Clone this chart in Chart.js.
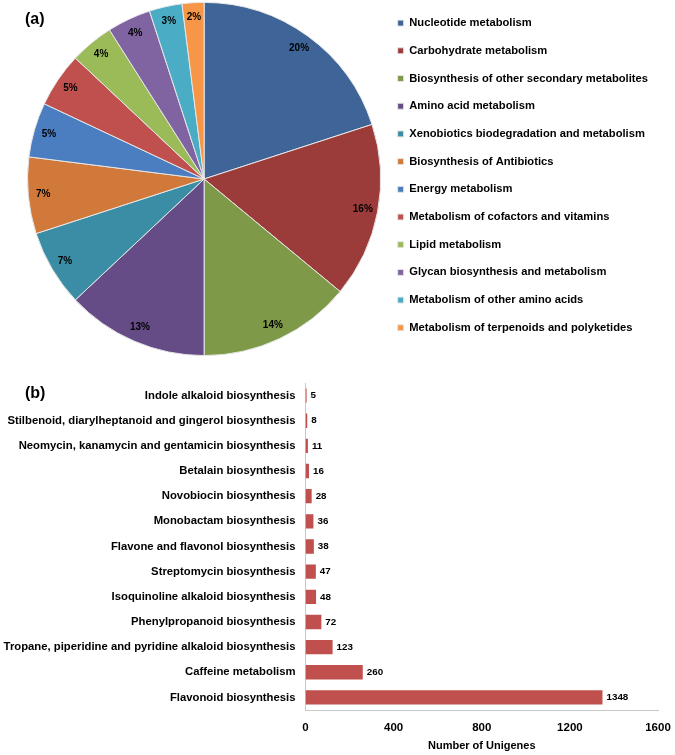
<!DOCTYPE html>
<html>
<head>
<meta charset="utf-8">
<script src="https://cdn.jsdelivr.net/npm/chart.js@4.4.1/dist/chart.umd.min.js"></script>
<style>
  body { margin: 0; background: #fff; }
  #wrap { position: relative; width: 675px; height: 755px; font-family: "Liberation Sans", Arial, sans-serif; }
  #pieChart { position: absolute; left: 0; top: 0; }
  #barChart { position: absolute; left: 0; top: 360px; }
  .tag { position: absolute; font-weight: bold; font-size: 16px; color: #000; }
</style>
</head>
<body>
<div id="wrap">
  <canvas id="pieChart" width="675" height="360"></canvas>
  <canvas id="barChart" width="675" height="395"></canvas>
  <div class="tag" style="left:25px; top:10px;">(a)</div>
  <div class="tag" style="left:25px; top:384px;">(b)</div>
</div>
<script>
// pie data (a)
const pieLabels = [
  "Nucleotide metabolism",
  "Carbohydrate metabolism",
  "Biosynthesis of other secondary metabolites",
  "Amino acid metabolism",
  "Xenobiotics biodegradation and metabolism",
  "Biosynthesis of Antibiotics",
  "Energy metabolism",
  "Metabolism of cofactors and vitamins",
  "Lipid metabolism",
  "Glycan biosynthesis and metabolism",
  "Metabolism of other amino acids",
  "Metabolism of terpenoids and polyketides"
];
const pieValues = [20, 16, 14, 13, 7, 7, 5, 5, 4, 4, 3, 2];
const pieColors = ["#3e6498", "#9c3c3a", "#7e9a48", "#654c86", "#3a8da4", "#d1793a",
                   "#4a7ec1", "#c0504d", "#9bbb59", "#8064a2", "#4bacc6", "#f79646"];

// bar data (b)
const barLabels = [
  "Indole alkaloid biosynthesis",
  "Stilbenoid, diarylheptanoid and gingerol biosynthesis",
  "Neomycin, kanamycin and gentamicin biosynthesis",
  "Betalain biosynthesis",
  "Novobiocin biosynthesis",
  "Monobactam biosynthesis",
  "Flavone and flavonol biosynthesis",
  "Streptomycin biosynthesis",
  "Isoquinoline alkaloid biosynthesis",
  "Phenylpropanoid biosynthesis",
  "Tropane, piperidine and pyridine alkaloid biosynthesis",
  "Caffeine metabolism",
  "Flavonoid biosynthesis"
];
const barValues = [5, 8, 11, 16, 28, 36, 38, 47, 48, 72, 123, 260, 1348];
const xTicks = [0, 400, 800, 1200, 1600];

const FONT = "'Liberation Sans', Arial, sans-serif";

// percent labels inside the pie
const piePercent = {
  id: "piePercent",
  afterDatasetsDraw(chart) {
    const ctx = chart.ctx;
    const total = pieValues.reduce((a, b) => a + b, 0);
    ctx.save();
    ctx.font = "bold 10px " + FONT;
    ctx.fillStyle = "#000";
    ctx.textAlign = "center";
    ctx.textBaseline = "middle";
    chart.getDatasetMeta(0).data.forEach((arc, i) => {
      const p = arc.getProps(["x", "y", "startAngle", "endAngle", "outerRadius"], true);
      const mid = (p.startAngle + p.endAngle) / 2;
      const r = p.outerRadius * 0.915;
      ctx.fillText(Math.round(pieValues[i] / total * 100) + "%", p.x + Math.cos(mid) * r, p.y + Math.sin(mid) * r);
    });
    ctx.restore();
  }
};

// value labels at end of bars
const barValueLabels = {
  id: "barValueLabels",
  afterDatasetsDraw(chart) {
    const ctx = chart.ctx;
    ctx.save();
    ctx.font = "bold 9.8px " + FONT;
    ctx.fillStyle = "#000";
    ctx.textAlign = "left";
    ctx.textBaseline = "middle";
    chart.getDatasetMeta(0).data.forEach((bar, i) => {
      ctx.fillText(barValues[i], bar.x + 4, bar.y);
    });
    ctx.restore();
  }
};

new Chart(document.getElementById("pieChart"), {
  type: "pie",
  data: {
    labels: pieLabels,
    datasets: [{
      data: pieValues,
      backgroundColor: pieColors,
      borderColor: "#e6e6e6",
      borderWidth: 1
    }]
  },
  options: {
    responsive: false,
    animation: false,
    layout: { padding: { left: 27, top: 1, bottom: 3, right: 17 } },
    plugins: {
      tooltip: { enabled: false },
      legend: {
        position: "right",
        align: "start",
        labels: {
          boxWidth: 6,
          boxHeight: 6,
          padding: 16.5,
          color: "#000",
          font: { family: FONT, size: 11.2, weight: "bold" }
        }
      }
    }
  },
  plugins: [piePercent]
});

new Chart(document.getElementById("barChart"), {
  type: "bar",
  data: {
    labels: barLabels,
    datasets: [{
      data: barValues,
      backgroundColor: "#c0504d",
      barPercentage: 0.57,
      categoryPercentage: 1
    }]
  },
  options: {
    indexAxis: "y",
    responsive: false,
    animation: false,
    layout: { padding: { left: 0, top: 23, right: 0, bottom: 0 } },
    plugins: {
      legend: { display: false },
      tooltip: { enabled: false }
    },
    scales: {
      x: {
        min: 0,
        max: 1600,
        afterBuildTicks(scale) { scale.ticks = xTicks.map(v => ({ value: v })); },
        afterFit(scale) { scale.height = 45; scale.paddingRight = 17; },
        grid: { display: false, drawTicks: false },
        border: { display: true, color: "#c8c8c8" },
        ticks: {
          color: "#000",
          padding: 11,
          maxRotation: 0,
          callback: (v) => String(v),
          font: { family: FONT, size: 11.5, weight: "bold" }
        },
        title: {
          display: true,
          text: "Number of Unigenes",
          color: "#000",
          padding: { top: 2, bottom: 2 },
          font: { family: FONT, size: 11, weight: "bold" }
        }
      },
      y: {
        afterFit(scale) { scale.width = 305.5; },
        grid: { display: false, drawTicks: false },
        border: { display: true, color: "#c8c8c8" },
        ticks: {
          color: "#000",
          padding: 10,
          autoSkip: false,
          font: { family: FONT, size: 11.3, weight: "bold" }
        }
      }
    }
  },
  plugins: [barValueLabels]
});
</script>
</body>
</html>
